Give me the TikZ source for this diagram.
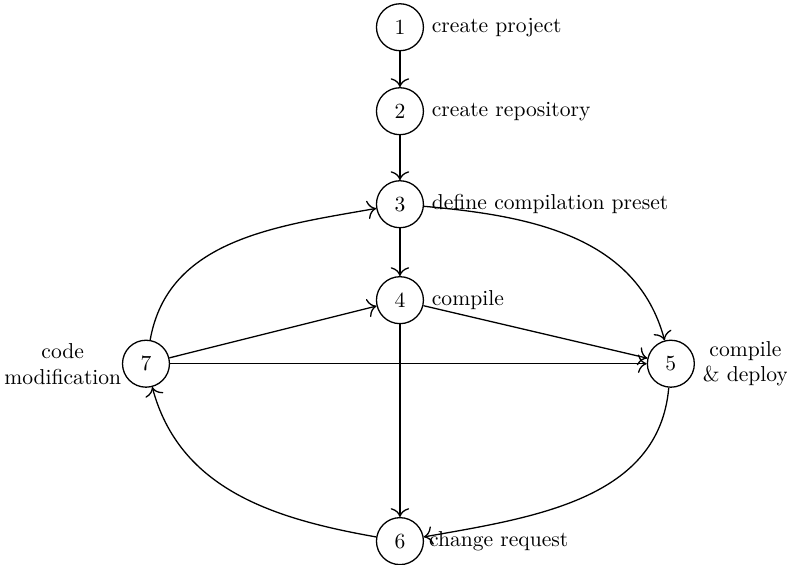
\documentclass[tikz,border=0pt]{standalone}
\usepackage{tikz}
\usetikzlibrary{arrows.meta}

\begin{document}
\begin{tikzpicture}[>={To[scale=1.4]}, semithick,
    stage/.style={draw=black, circle, minimum size=0.765cm, inner sep=0pt}]
      \useasboundingbox (0,0) rectangle (12.82,9.19);

      \node [stage, name=create] at (6.515,8.746) {1};
      \node [stage, name=repo] at (6.515,7.378) {2};
      \node [stage, name=preset] at (6.515,5.863) {3};
      \node [stage, name=compile] at (6.515,4.300) {4};
      \node [stage, name=deploy] at (10.928,3.265) {5};
      \node [stage, name=request] at (6.515,0.375) {6};
      \node [stage, name=modify] at (2.378,3.265) {7};

      \node [anchor=west, name=lcreate] at (create.east) {create project};
      \node [anchor=west, name=lrepo] at (repo.east) {create repository};
      \node [anchor=west, name=lpreset] at (preset.east) {define compilation preset};
      \node [anchor=west, name=lcompile] at (compile.east) {compile};
      \node [anchor=west, align=center, name=ldeploy] at (deploy.east) {compile\\\& deploy};
      \node [anchor=west, inner sep=2pt, name=lrequest] at (request.east) {change request};
      \node [anchor=east, align=center, inner sep=0pt, name=lmodify] at (modify.west) {code\\modification};

      \draw [->] (create) -- (repo);
      \draw [->] (repo) -- (preset);
      \draw [->] (preset) -- (compile);
      \draw [->] (compile) -- (request);
      \draw [->] (compile) -- (deploy);
      \draw [->] (modify) -- (compile);
      \draw [->] (modify) -- (deploy);

      \draw [->] (preset) to[out=-5, in=105] (deploy);
      \draw [->] (deploy) to[out=265, in=10] (request);
      \draw [->] (request) to[out=170, in=-75] (modify);
      \draw [->] (modify) to[out=80, in=190] (preset);
    \end{tikzpicture}
\end{document}
